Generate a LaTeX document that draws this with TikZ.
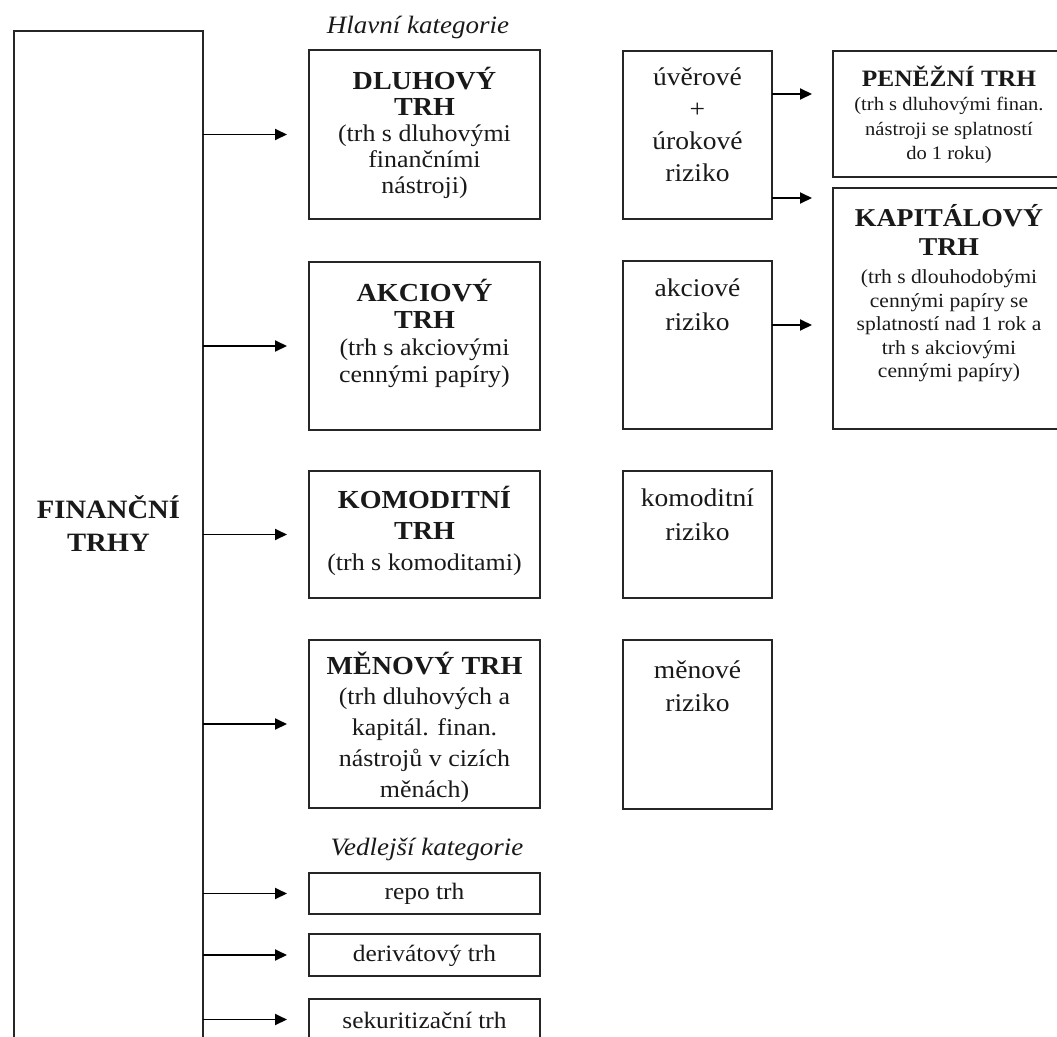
\documentclass[tikz,border=0pt]{standalone}
\usepackage{fontspec}
\setmainfont{Liberation Serif}[FakeStretch=1.08]
\usetikzlibrary{arrows.meta}
\newcommand\mybold[2][26]{{\fontsize{#1}{#1}\selectfont\bfseries #2}}
\begin{document}
\begin{tikzpicture}[x=1pt,y=-1pt,
  bx/.style={draw=black!85, line width=1.9pt, inner sep=0pt, outer sep=0pt},
  arr/.style={line width=1.9pt, -{Triangle[length=12pt,width=11pt]}},
  txt/.style={align=center, inner sep=0pt, text=black!90},
  cat/.style={inner sep=0pt, text=black!90, font=\fontsize{25}{25}\selectfont\itshape},
]
\useasboundingbox (0,0) rectangle (1057,1036);
\clip (0,0) rectangle (1057,1036);

% left big box
\node[bx, minimum width=189pt, minimum height=1030pt] (L) at (108.5,546) {};
\node[txt, font=\fontsize{26.5}{33}\selectfont\bfseries] (Lt) at (108.5,523) {FINANČNÍ\\TRHY};

% category labels
\node[cat] (hk) at (418,27) {Hlavní kategorie};
\node[cat] (vk) at (427,849) {Vedlejší kategorie};

% middle boxes
\node[bx, minimum width=231pt, minimum height=169pt] (D) at (424.5,134.5) {};
\node[bx, minimum width=231pt, minimum height=168pt] (Ak) at (424.5,346) {};
\node[bx, minimum width=231pt, minimum height=127pt] (Ko) at (424.5,534.5) {};
\node[bx, minimum width=231pt, minimum height=168pt] (Me) at (424.5,724) {};
\node[bx, minimum width=231pt, minimum height=41pt] (Re) at (424.5,893.5) {};
\node[bx, minimum width=231pt, minimum height=42pt] (De) at (424.5,955) {};
\node[bx, minimum width=231pt, minimum height=41pt] (Se) at (424.5,1019.5) {};

\node[txt, font=\fontsize{24}{26}\selectfont] (Dt) at (424.5,133) {\mybold{DLUHOVÝ}\\\mybold{TRH}\\(trh s dluhovými\\finančními\\nástroji)};
\node[txt, font=\fontsize{24}{27}\selectfont] (Akt) at (424.5,333) {\mybold{AKCIOVÝ}\\\mybold{TRH}\\(trh s akciovými\\cennými papíry)};
\node[txt, font=\fontsize{24}{31}\selectfont] (Kot) at (424.5,531) {\mybold{KOMODITNÍ}\\\mybold{TRH}\\(trh s komoditami)};
\node[txt, font=\fontsize{24}{30.75}\selectfont] (Met) at (424.5,727) {\mybold{MĚNOVÝ TRH}\\(trh dluhových a\\kapitál. finan.\\nástrojů v cizích\\měnách)};
\node[txt, font=\fontsize{23.5}{26}\selectfont] (Ret) at (424.5,894) {repo trh};
\node[txt, font=\fontsize{23.5}{26}\selectfont] (Det) at (424.5,955.5) {derivátový trh};
\node[txt, font=\fontsize{23.5}{26}\selectfont] (Set) at (424.5,1020) {sekuritizační trh};

% risk boxes
\node[bx, minimum width=149pt, minimum height=168pt] (U) at (697.5,135) {};
\node[bx, minimum width=149pt, minimum height=168pt] (A) at (697.5,345) {};
\node[bx, minimum width=149pt, minimum height=127pt] (K) at (697.5,534.5) {};
\node[bx, minimum width=149pt, minimum height=169pt] (M) at (697.5,724.5) {};

\node[txt, font=\fontsize{25.5}{32}\selectfont] (Ut) at (697.5,125) {úvěrové\\+\\úrokové\\riziko};
\node[txt, font=\fontsize{25.5}{34}\selectfont] (At) at (697.5,305) {akciové\\riziko};
\node[txt, font=\fontsize{25.5}{34}\selectfont] (Kt) at (697.5,515) {komoditní\\riziko};
\node[txt, font=\fontsize{25.5}{33}\selectfont] (Mt) at (697.5,686) {měnové\\riziko};

% right boxes
\node[bx, minimum width=233pt, minimum height=126pt] (P) at (949.5,114) {};
\node[bx, minimum width=233pt, minimum height=241pt] (Kap) at (949.5,308.5) {};

\node[txt, font=\fontsize{19}{24.5}\selectfont] (Pt) at (949,115) {\mybold[23.5]{PENĚŽNÍ TRH}\\(trh s dluhovými finan.\\nástroji se splatností\\do 1 roku)};
\node[txt, font=\fontsize{20}{23.5}\selectfont] (Kapt) at (949,293) {\mybold[25.7]{KAPITÁLOVÝ}\\[6pt]\mybold[25.7]{TRH}\\[4.5pt](trh s dlouhodobými\\cennými papíry se\\splatností nad 1 rok a\\trh s akciovými\\cennými papíry)};

% arrows from the left box
\foreach \n in {D,Ak,Ko,Me,Re,De,Se}{
  \coordinate (t\n) at ([xshift=-22pt]\n.west);
  \draw[arr] (L.east |- t\n) -- (t\n);
}

% arrows from risk boxes
\coordinate (r1) at (812,94);
\coordinate (r2) at (812,198);
\coordinate (r3) at (812,325);
\draw[arr] (U.east |- r1) -- (r1);
\draw[arr] (U.east |- r2) -- (r2);
\draw[arr] (A.east |- r3) -- (r3);
\end{tikzpicture}
\end{document}
